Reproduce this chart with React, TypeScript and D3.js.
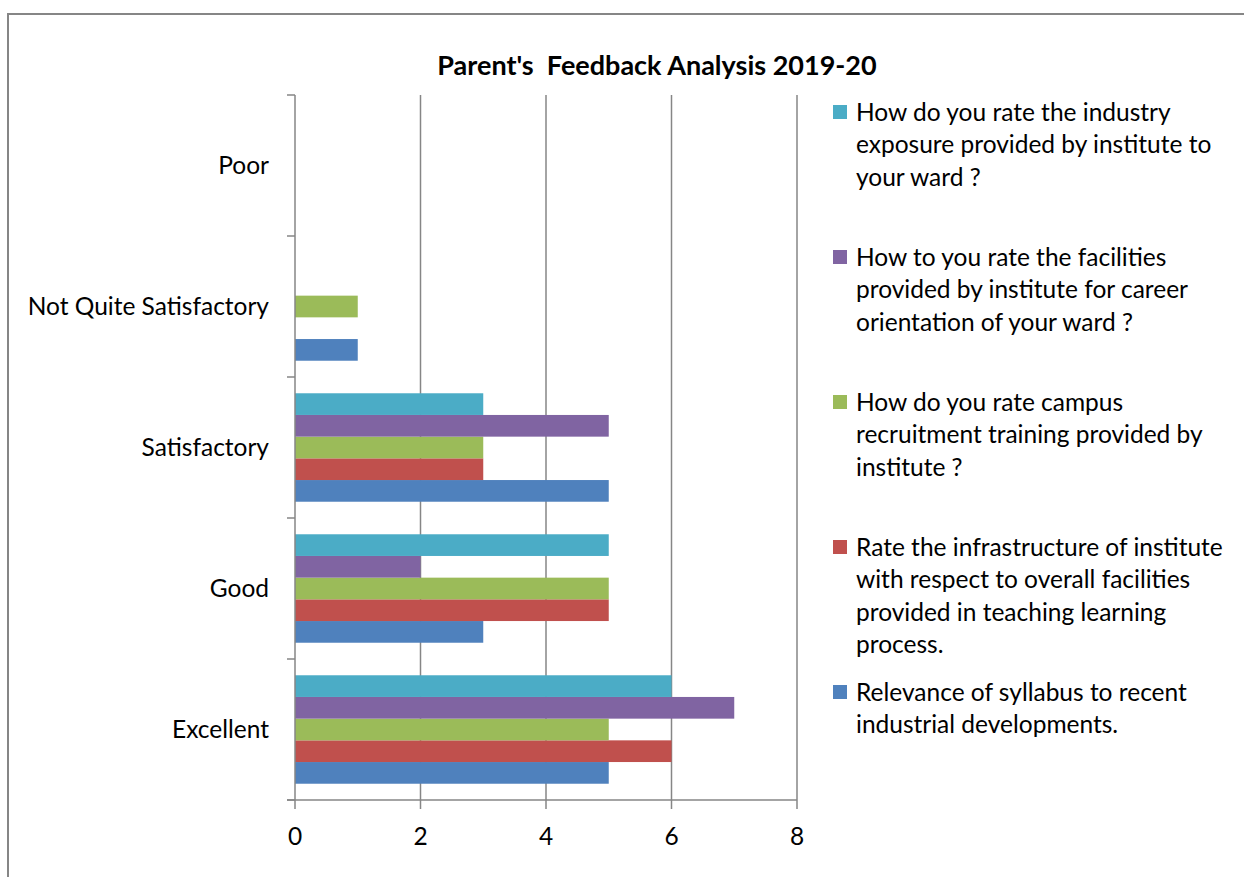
import * as d3 from 'd3';

const categories = ['Excellent', 'Good', 'Satisfactory', 'Not Quite Satisfactory', 'Poor'];

const seriesNames = [
    'Relevance of syllabus to recent industrial developments.',
    'Rate the infrastructure of institute with respect to overall facilities provided in teaching learning process.',
    'How do you rate campus recruitment training provided by institute ?',
    'How to you rate the facilities provided by institute for career orientation of your ward ?',
    'How do you rate the industry exposure provided by institute to your ward ?',
];

// legend text as wrapped in the original
const legendLines = [
    ['Relevance of syllabus to recent', 'industrial developments.'],
    ['Rate the infrastructure of institute', 'with respect to overall facilities', 'provided in teaching learning', 'process.'],
    ['How do you rate campus', 'recruitment training provided by', 'institute ?'],
    ['How to you rate the facilities', 'provided by institute for career', 'orientation of your ward ?'],
    ['How do you rate the industry', 'exposure provided by institute to', 'your ward ?'],
];

// values per series, in category order (Excellent .. Poor)
const syllabus = [5, 3, 5, 1, 0];
const infrastructure = [6, 5, 3, 0, 0];
const recruitment = [5, 5, 3, 1, 0];
const careerFacilities = [7, 2, 5, 0, 0];
const industryExposure = [6, 5, 3, 0, 0];

const seriesValues = [syllabus, infrastructure, recruitment, careerFacilities, industryExposure];
const xTicks = [0, 2, 4, 6, 8];

const COLORS = ['#4F81BD', '#C0504D', '#9BBB59', '#8064A2', '#4BACC6'];

const W = 1244, H = 877;
const FONT = 'Lato, "Open Sans", sans-serif';
const FS = 24.5;

export default function App() {
    const x = d3.scaleLinear().domain([0, 8]).range([295, 797]);
    // Poor at the top
    const y = d3.scaleBand<string>().domain([...categories].reverse()).range([95, 800]);
    // first series sits at the bottom of each band
    const inner = d3.scaleBand<number>()
        .domain(d3.range(seriesNames.length).reverse())
        .range([0, y.bandwidth()])
        .paddingOuter(0.75);

    const legendStep = 145;

    return (
        <div style={{ position: 'absolute', left: 0, top: 0 }}>
            <svg width={W} height={H} style={{ display: 'block', fontFamily: FONT }}>
                <rect x={0} y={0} width={W} height={H} fill="#fff" />
                <rect x={8} y={14} width={W} height={H} fill="none" stroke="#868686" strokeWidth={2} />

                <text x={657} y={66} dy="0.35em" textAnchor="middle" fontSize={27} fontWeight={700} fill="#000"
                    style={{ whiteSpace: 'pre' }}>
                    {"Parent's  Feedback Analysis 2019-20"}
                </text>

                {/* gridlines */}
                {xTicks.slice(1).map(t => (
                    <line key={t} x1={x(t)} x2={x(t)} y1={95} y2={800} stroke="#868686" strokeWidth={1.5} />
                ))}

                {/* bars */}
                {seriesValues.map((vals, si) => (
                    <g key={si} fill={COLORS[si]}>
                        {vals.map((v, ci) => v > 0 && (
                            <rect key={ci}
                                x={x(0)}
                                y={(y(categories[ci]) ?? 0) + (inner(si) ?? 0)}
                                width={x(v) - x(0)}
                                height={inner.bandwidth()} />
                        ))}
                    </g>
                ))}

                {/* y axis */}
                <line x1={x(0)} x2={x(0)} y1={95} y2={800} stroke="#868686" strokeWidth={1.5} />
                {[...y.domain().map(c => y(c) ?? 0), 800].map((ty, i) => (
                    <line key={i} x1={287} x2={x(0)} y1={ty} y2={ty} stroke="#868686" strokeWidth={1.5} />
                ))}
                {categories.map(c => (
                    <text key={c} x={269} y={(y(c) ?? 0) + y.bandwidth() / 2} dy="0.35em"
                        textAnchor="end" fontSize={FS} fill="#000">{c}</text>
                ))}

                {/* x axis */}
                <line x1={x(0) - 8} x2={x(8)} y1={800} y2={800} stroke="#868686" strokeWidth={1.5} />
                {xTicks.map(t => (
                    <g key={t}>
                        <line x1={x(t)} x2={x(t)} y1={800} y2={809} stroke="#868686" strokeWidth={1.5} />
                        <text x={x(t)} y={836} dy="0.35em" textAnchor="middle" fontSize={FS} fill="#000">{t}</text>
                    </g>
                ))}

                {/* legend, last series first */}
                {d3.range(seriesNames.length).reverse().map((si, k) => {
                    const top = 112 + k * legendStep;
                    return (
                        <g key={si}>
                            <rect x={833} y={top - 7} width={14} height={14} fill={COLORS[si]} />
                            {legendLines[si].map((ln, li) => (
                                <text key={li} x={856} y={top + li * 32.5} dy="0.35em" fontSize={FS} fill="#000">{ln}</text>
                            ))}
                        </g>
                    );
                })}
            </svg>
        </div>
    );
}
